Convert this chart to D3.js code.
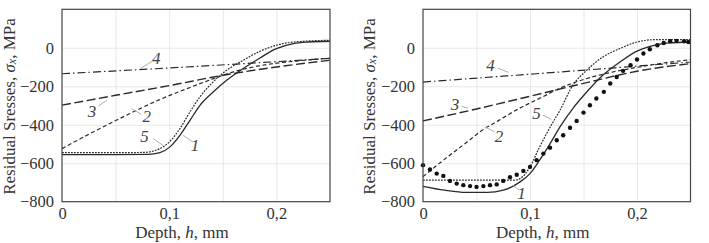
<!DOCTYPE html>
<html>
<head>
<meta charset="utf-8">
<script src="https://cdn.jsdelivr.net/npm/d3@7"></script>
<style>
  body { margin: 0; background: #fff; }
  svg { display: block; font-family: "Liberation Serif", "DejaVu Serif", serif; }
</style>
</head>
<body>
<svg id="chart"></svg>
<script>
// tick values
let yTicks = [-800, -600, -400, -200, 0];
let xTicks = [0, 0.1, 0.2];
let xGridTicks = [0.05, 0.1, 0.15, 0.2];
let yGridTicks = [-600, -400, -200, 0];

// left panel curves [depth mm, stress MPa]
let left1 = [[0, -555], [0.05, -555], [0.08, -554], [0.0914, -545], [0.1007, -515], [0.11, -455], [0.1194, -377], [0.1287, -299], [0.141, -230], [0.1536, -169], [0.169, -108], [0.1847, -53], [0.2, -4], [0.216, 22], [0.23, 30], [0.25, 34]];
let left2 = [[0, -524], [0.03, -435], [0.06, -351], [0.09, -272], [0.12, -205], [0.14, -163], [0.16, -125], [0.18, -98], [0.2, -80], [0.22, -68], [0.25, -55]];
let left3 = [[0, -298], [0.05, -247], [0.1, -197], [0.15, -143], [0.2, -100], [0.25, -65]];
let left4 = [[0, -135], [0.125, -97], [0.25, -55]];
let left5 = [[0, -545], [0.05, -545], [0.076, -544], [0.0914, -524], [0.1007, -486], [0.11, -420], [0.1194, -333], [0.1287, -255], [0.141, -177], [0.1536, -117], [0.169, -65], [0.1847, -18], [0.2, 13], [0.216, 30], [0.25, 39]];

// right panel curves
let right1 = [[0, -720], [0.02, -740], [0.04, -752], [0.06, -752], [0.075, -740], [0.0907, -697], [0.1, -654], [0.109, -584], [0.1188, -498], [0.128, -411], [0.14, -316], [0.153, -230], [0.168, -143], [0.184, -74], [0.2, -17], [0.216, 13], [0.23, 25], [0.25, 30]];
let right2 = [[0, -670], [0.02, -580], [0.04, -495], [0.055, -430], [0.07, -380], [0.09, -315], [0.11, -260], [0.13, -205], [0.15, -165], [0.17, -135], [0.19, -112], [0.21, -92], [0.23, -75], [0.25, -62]];
let right3 = [[0, -380], [0.05, -318], [0.1, -252], [0.15, -185], [0.2, -122], [0.25, -82]];
let right4 = [[0, -178], [0.125, -127], [0.25, -74]];
let right5 = [[0, -688], [0.05, -688], [0.085, -688], [0.0907, -680], [0.1, -619], [0.109, -515], [0.119, -411], [0.128, -325], [0.14, -195], [0.153, -117], [0.168, -48], [0.184, -4], [0.2, 30], [0.216, 42], [0.25, 42]];
// measured points (right panel)
let rightDots = [[0, -610], [0.0065, -633], [0.0128, -654], [0.019, -666], [0.0252, -692], [0.0315, -706], [0.0377, -714], [0.044, -719], [0.05, -723], [0.0564, -719], [0.0626, -714], [0.0689, -710], [0.075, -692], [0.0813, -673], [0.0876, -660], [0.0938, -640], [0.1, -619], [0.1062, -584], [0.1125, -550], [0.1187, -519], [0.125, -481], [0.131, -455], [0.1374, -416], [0.1436, -380], [0.15, -337], [0.156, -299], [0.162, -264], [0.169, -229], [0.175, -186], [0.181, -152], [0.187, -120], [0.194, -91], [0.2, -61], [0.206, -30], [0.212, -8], [0.219, 13], [0.225, 25], [0.231, 34], [0.237, 36], [0.244, 34], [0.248, 30]];

// curve labels: [name, x, y] in data units
let leftLabels = [['4', 0.088, -57], ['3', 0.028, -333], ['2', 0.079, -359], ['5', 0.077, -463], ['1', 0.124, -506]];
let rightLabels = [['4', 0.063, -91], ['3', 0.030, -293], ['2', 0.071, -463], ['5', 0.106, -342], ['1', 0.092, -757]];
// leader lines [x1, y1, x2, y2]
let leftLeaders = [[0.073, -108, 0.084, -71], [0.034, -302, 0.042, -273], [0.065, -316, 0.074, -346], [0.085, -472, 0.095, -510], [0.113, -455, 0.122, -489]];
let rightLeaders = [[0.07, -106, 0.08, -128], [0.036, -304, 0.042, -314], [0.058, -411, 0.067, -437], [0.112, -350, 0.12, -372], [0.084, -714, 0.09, -740]];

let width = 709, height = 243;
let plotTop = 9.3, plotBottom = 201.7;

let svg = d3.select('#chart').attr('width', width).attr('height', height);

let styles = {
    c1: { dash: null, w: 1.3 },
    c2: { dash: '4,2.6', w: 1.2 },
    c3: { dash: '9,3.5', w: 1.4 },
    c4: { dash: '8,3,1.5,3', w: 1.2 },
    c5: { dash: '1.8,1.2', w: 1.2 }
};

let drawPanel = (left, right, labelX, curves, dots, labels, leaders) => {
    let xScale = d3.scaleLinear().domain([0, 0.25]).range([left, right]);
    let yScale = d3.scaleLinear().domain([-800, 200]).range([plotBottom, plotTop]);
    let g = svg.append('g');

    // grid
    g.append('g')
        .attr('transform', `translate(0, ${plotBottom})`)
        .call(d3.axisBottom(xScale).tickValues(xGridTicks).tickSize(-(plotBottom - plotTop)).tickFormat(''))
        .call(a => a.select('.domain').remove())
        .selectAll('line').attr('stroke', '#e2e2e2').attr('stroke-width', 0.8);
    g.append('g')
        .attr('transform', `translate(${left}, 0)`)
        .call(d3.axisLeft(yScale).tickValues(yGridTicks).tickSize(-(right - left)).tickFormat(''))
        .call(a => a.select('.domain').remove())
        .selectAll('line').attr('stroke', '#e2e2e2').attr('stroke-width', 0.8);

    // tick labels
    let yAxis = g.append('g')
        .attr('transform', `translate(${left}, 0)`)
        .call(d3.axisLeft(yScale).tickValues(yTicks).tickSize(0).tickPadding(8));
    yAxis.select('.domain').remove();
    yAxis.selectAll('text').attr('font-size', 16.5).attr('fill', '#333')
        .attr('font-family', '"Liberation Serif", serif');

    let xAxis = g.append('g')
        .attr('transform', `translate(0, ${plotBottom})`)
        .call(d3.axisBottom(xScale).tickValues(xTicks).tickSize(0).tickPadding(6)
            .tickFormat(d => d === 0 ? '0' : d3.format('.1f')(d).replace('.', ',')));
    xAxis.select('.domain').remove();
    xAxis.selectAll('text').attr('font-size', 16.5).attr('fill', '#333')
        .attr('font-family', '"Liberation Serif", serif');

    // curves
    let line = d3.line()
        .x(d => xScale(d[0]))
        .y(d => yScale(d[1]))
        .curve(d3.curveMonotoneX);
    curves.forEach(c => {
        g.append('path')
            .datum(c.data)
            .attr('d', line)
            .attr('fill', 'none')
            .attr('stroke', '#2a2a2a')
            .attr('stroke-width', styles[c.style].w)
            .attr('stroke-dasharray', styles[c.style].dash);
    });

    if (dots) {
        g.selectAll('circle.dot')
            .data(dots)
            .enter()
            .append('circle')
            .attr('class', 'dot')
            .attr('cx', d => xScale(d[0]))
            .attr('cy', d => yScale(d[1]))
            .attr('r', 2.2)
            .attr('fill', '#111');
    }

    // leader lines and labels
    g.selectAll('line.leader')
        .data(leaders)
        .enter()
        .append('line')
        .attr('class', 'leader')
        .attr('x1', d => xScale(d[0]))
        .attr('y1', d => yScale(d[1]))
        .attr('x2', d => xScale(d[2]))
        .attr('y2', d => yScale(d[3]))
        .attr('stroke', '#b0b0b0')
        .attr('stroke-width', 1);
    g.selectAll('text.lbl')
        .data(labels)
        .enter()
        .append('text')
        .attr('class', 'lbl')
        .attr('x', d => xScale(d[1]))
        .attr('y', d => yScale(d[2]))
        .attr('text-anchor', 'middle')
        .attr('dominant-baseline', 'central')
        .attr('font-size', 17)
        .attr('font-style', 'italic')
        .attr('fill', '#444')
        .text(d => d[0]);

    // frame
    g.append('rect')
        .attr('x', left).attr('y', plotTop)
        .attr('width', right - left).attr('height', plotBottom - plotTop)
        .attr('fill', 'none')
        .attr('stroke', '#444')
        .attr('stroke-width', 1.2);

    // axis titles
    let yt = g.append('text')
        .attr('transform', `translate(${labelX}, ${(plotTop + plotBottom) / 2 + 1}) rotate(-90)`)
        .attr('text-anchor', 'middle')
        .attr('dominant-baseline', 'central')
        .attr('font-size', 17)
        .attr('fill', '#333');
    yt.append('tspan').text('Residual Sresses, ');
    yt.append('tspan').attr('font-style', 'italic').text('σ');
    yt.append('tspan').attr('font-style', 'italic').attr('font-size', 12).attr('dy', 3).text('x');
    yt.append('tspan').attr('dy', -3).text(', MPa');

    let xt = g.append('text')
        .attr('x', (left + right) / 2 - 14)
        .attr('y', 238)
        .attr('text-anchor', 'middle')
        .attr('font-size', 17)
        .attr('fill', '#333');
    xt.append('tspan').text('Depth, ');
    xt.append('tspan').attr('font-style', 'italic').text('h');
    xt.append('tspan').text(', mm');
};

drawPanel(62, 330, 9, [
    { data: left1, style: 'c1' },
    { data: left2, style: 'c2' },
    { data: left3, style: 'c3' },
    { data: left4, style: 'c4' },
    { data: left5, style: 'c5' }
], null, leftLabels, leftLeaders);

drawPanel(423, 690.5, 369, [
    { data: right1, style: 'c1' },
    { data: right2, style: 'c2' },
    { data: right3, style: 'c3' },
    { data: right4, style: 'c4' },
    { data: right5, style: 'c5' }
], rightDots, rightLabels, rightLeaders);
</script>
</body>
</html>
